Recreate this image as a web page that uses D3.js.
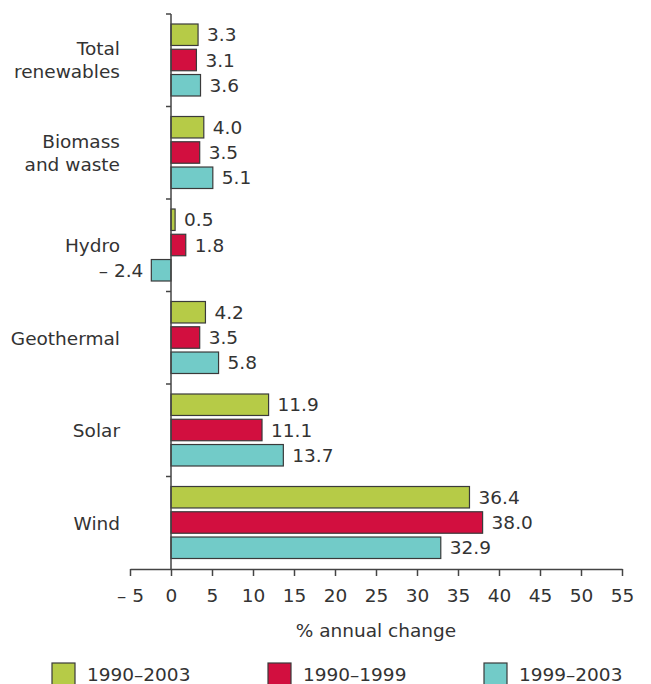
<!DOCTYPE html>
<html>
<head>
<meta charset="utf-8">
<script src="https://cdn.jsdelivr.net/npm/d3@7"></script>
<style>
  body { margin: 0; background: #fff; }
  text { font-family: "DejaVu Sans", Verdana, sans-serif; fill: #333; }
</style>
</head>
<body>
<div id="chart"></div>
<script>
// categories, top to bottom
var categories = ["Total renewables", "Biomass and waste", "Hydro", "Geothermal", "Solar", "Wind"];
var catLines = [["Total", "renewables"], ["Biomass", "and waste"], ["Hydro"], ["Geothermal"], ["Solar"], ["Wind"]];
var seriesNames = ["1990\u20132003", "1990\u20131999", "1999\u20132003"];
var seriesColors = ["#b6cb47", "#d20f3f", "#72cbc8"];

var s1990_2003 = [3.3, 4.0, 0.5, 4.2, 11.9, 36.4];
var s1990_1999 = [3.1, 3.5, 1.8, 3.5, 11.1, 38.0];
var s1999_2003 = [3.6, 5.1, -2.4, 5.8, 13.7, 32.9];
var seriesValues = [s1990_2003, s1990_1999, s1999_2003];

var xTicks = [-5, 0, 5, 10, 15, 20, 25, 30, 35, 40, 45, 50, 55];

var W = 651, H = 684;
var FS = "18.5px";
var svg = d3.select("#chart").append("svg").attr("width", W).attr("height", H);

var x = d3.scaleLinear().domain([-5, 55]).range([130, 622]);
var y = d3.scaleBand().domain(categories).range([14, 569]);
var yInner = d3.scaleBand().domain([0, 1, 2]).range([10, 82]).paddingInner(0.15);

function fmt(v) {
    return v < 0 ? "\u2013 " + Math.abs(v).toFixed(1) : v.toFixed(1);
}

// bars
var groups = svg.selectAll("g.cat")
    .data(categories)
    .enter().append("g")
    .attr("class", "cat")
    .attr("transform", function(d) { return "translate(0," + y(d) + ")"; });

groups.each(function(cat, ci) {
    var g = d3.select(this);
    seriesValues.forEach(function(vals, si) {
        var v = vals[ci];
        g.append("rect")
            .attr("x", x(Math.min(0, v)))
            .attr("y", yInner(si))
            .attr("width", Math.abs(x(v) - x(0)))
            .attr("height", yInner.bandwidth())
            .attr("fill", seriesColors[si])
            .attr("stroke", "#3a3a3a")
            .attr("stroke-width", 1.2);
        g.append("text")
            .attr("x", v < 0 ? x(v) - 8 : x(v) + 9)
            .attr("y", yInner(si) + yInner.bandwidth() / 2)
            .attr("dy", "0.36em")
            .attr("text-anchor", v < 0 ? "end" : "start")
            .style("font-size", FS)
            .text(fmt(v));
    });
});

// category labels
categories.forEach(function(cat, ci) {
    var lines = catLines[ci];
    var cy = y(cat) + y.bandwidth() / 2;
    var t = svg.append("text")
        .attr("text-anchor", "end")
        .style("font-size", FS);
    lines.forEach(function(l, li) {
        var off = lines.length === 1 ? 7 : (li === 0 ? -5 : 18);
        t.append("tspan").attr("x", 120).attr("y", cy + off).text(l);
    });
});

// y axis line with group ticks
svg.append("line")
    .attr("x1", x(0)).attr("x2", x(0))
    .attr("y1", 14).attr("y2", 569)
    .attr("stroke", "#444").attr("stroke-width", 1.5);
svg.selectAll("line.ytick")
    .data(categories)
    .enter().append("line")
    .attr("class", "ytick")
    .attr("x1", x(0) - 5).attr("x2", x(0))
    .attr("y1", function(d) { return y(d); })
    .attr("y2", function(d) { return y(d); })
    .attr("stroke", "#444").attr("stroke-width", 1.5);

// x axis
var xAxis = d3.axisBottom(x)
    .tickValues(xTicks)
    .tickSize(7)
    .tickSizeOuter(0)
    .tickFormat(function(d) { return d < 0 ? "\u2013 " + Math.abs(d) : d; });
var ax = svg.append("g")
    .attr("transform", "translate(0,569)")
    .call(xAxis);
ax.select(".domain").attr("stroke", "#444").attr("stroke-width", 1.5);
ax.selectAll(".tick line").attr("stroke", "#444").attr("stroke-width", 1.5);
ax.selectAll(".tick text")
    .attr("y", 26)
    .attr("dy", "0.36em")
    .style("font-size", FS)
    .style("font-family", "DejaVu Sans, Verdana, sans-serif")
    .attr("fill", "#333");

svg.append("text")
    .attr("x", (x(-5) + x(55)) / 2)
    .attr("y", 630)
    .attr("dy", "0.36em")
    .attr("text-anchor", "middle")
    .style("font-size", FS)
    .text("% annual change");

// legend
var legendX = [52, 268, 484];
seriesNames.forEach(function(name, i) {
    svg.append("rect")
        .attr("x", legendX[i]).attr("y", 663)
        .attr("width", 23).attr("height", 23)
        .attr("fill", seriesColors[i])
        .attr("stroke", "#3a3a3a").attr("stroke-width", 1.2);
    svg.append("text")
        .attr("x", legendX[i] + 35)
        .attr("y", 681)
        .style("font-size", FS)
        .text(name);
});
</script>
</body>
</html>
